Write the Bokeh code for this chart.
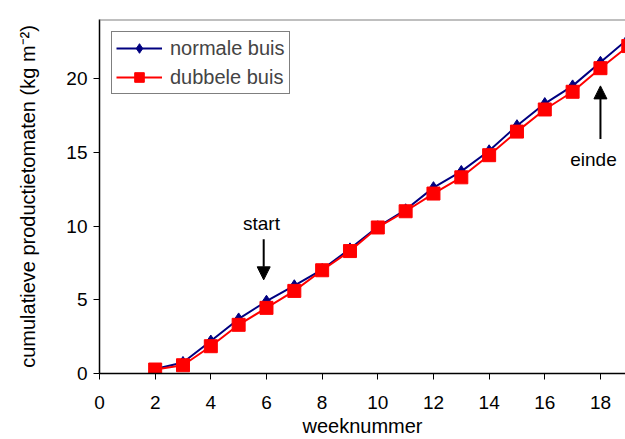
from bokeh.plotting import figure
from bokeh.models import Range1d, Span, Arrow, NormalHead, Legend, LegendItem, FixedTicker
from bokeh.core.properties import value
from bokeh.embed import file_html
from bokeh.resources import INLINE

weeks = [2, 3, 4, 5, 6, 7, 8, 9, 10, 11, 12, 13, 14, 15, 16, 17, 18, 19]
normale = [0.3, 0.75, 2.2, 3.7, 4.9, 5.95, 7.05, 8.45, 9.95, 11.1, 12.6, 13.7, 15.1, 16.8, 18.3, 19.5, 21.1, 22.7]
dubbele = [0.27, 0.56, 1.85, 3.3, 4.45, 5.6, 7.0, 8.3, 9.9, 11.0, 12.2, 13.3, 14.8, 16.4, 17.9, 19.1, 20.7, 22.2]

x_ticks = [0, 2, 4, 6, 8, 10, 12, 14, 16, 18]
y_ticks = [0, 5, 10, 15, 20]

FONT = "Liberation Sans"

p = figure(width=625, height=439, output_backend="svg", toolbar_location=None,
           x_range=Range1d(0, 18.9), y_range=Range1d(0, 24),
           min_border_left=99, min_border_right=0, min_border_top=19, min_border_bottom=65)
p.outline_line_color = None
p.grid.visible = False
p.background_fill_color = "white"
p.border_fill_color = "white"

# top spine
p.add_layout(Span(location=24, dimension="width", line_color="#808080", line_width=2))

for ax in (p.xaxis[0], p.yaxis[0]):
    ax.axis_line_color = "black"
    ax.axis_line_width = 1.5
    ax.major_tick_line_color = "black"
    ax.major_tick_out = 6
    ax.major_tick_in = 0
    ax.minor_tick_line_color = None
    ax.major_label_text_font = FONT
    ax.major_label_text_font_size = "19px"
    ax.major_label_text_color = "black"
    ax.axis_label_text_font = FONT
    ax.axis_label_text_font_size = "20px"
    ax.axis_label_text_font_style = "normal"
    ax.axis_label_text_color = "black"

p.xaxis.ticker = FixedTicker(ticks=x_ticks)
p.yaxis.ticker = FixedTicker(ticks=y_ticks)
p.xaxis.axis_label = "weeknummer"
p.yaxis.axis_label = "cumulatieve productietomaten (kg m\u207b\u00b2)"
p.xaxis.major_label_standoff = 16
p.xaxis.axis_label_standoff = 3
p.yaxis.major_label_standoff = 6
p.yaxis.axis_label_standoff = 24

ln1 = p.line(weeks, normale, line_color="#000080", line_width=2)
sc1 = p.scatter(weeks, normale, marker="diamond", size=12, fill_color="#000080", line_color="#000080")
ln2 = p.line(weeks, dubbele, line_color="#FF0000", line_width=2)
sc2 = p.scatter(weeks, dubbele, marker="square", size=13, fill_color="#FF0000", line_color="#FF0000")

legend = Legend(items=[LegendItem(label="normale buis", renderers=[ln1, sc1]),
                       LegendItem(label="dubbele buis", renderers=[ln2, sc2])],
                location="top_left")
legend.label_text_font = FONT
legend.label_text_font_size = "20px"
legend.border_line_color = "black"
legend.border_line_width = 1
legend.glyph_width = 46
legend.glyph_height = 24
legend.label_height = 24
legend.spacing = 5
legend.padding = 4
legend.margin = 12
legend.label_standoff = 8
p.add_layout(legend)

# annotations
p.add_layout(Arrow(x_start=5.9, y_start=9.1, x_end=5.9, y_end=6.35, line_width=2, line_color="black",
                   end=NormalHead(size=13, fill_color="black", line_color="black")))
p.add_layout(Arrow(x_start=18.0, y_start=15.9, x_end=18.0, y_end=19.5, line_width=2, line_color="black",
                   end=NormalHead(size=13, fill_color="black", line_color="black")))
p.text(x=[5.82], y=[10.2], text=["start"], text_font=value(FONT), text_font_size="19px",
       text_align="center", text_baseline="middle", text_color="black")
p.text(x=[17.75], y=[14.5], text=["einde"], text_font=value(FONT), text_font_size="19px",
       text_align="center", text_baseline="middle", text_color="black")

open("out.html", "w").write(file_html(p, INLINE))
